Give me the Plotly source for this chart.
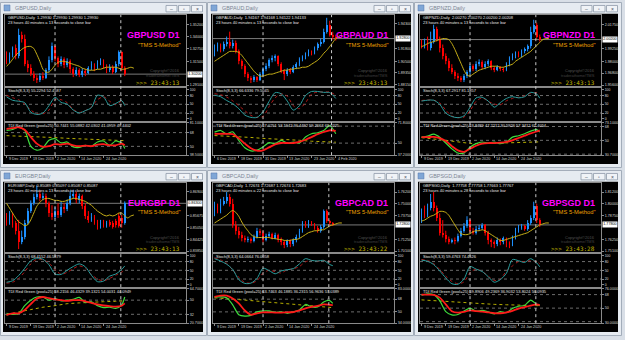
import plotly.graph_objects as go

W, H = 625, 340

# ------------------------------------------------------------------ DATA
# bar positions for indicator samples (every 2nd bar) and TDI base line (every 4th bar)
ind_bars_40 = [0, 2, 4, 6, 8, 10, 12, 14, 16, 18, 20, 22, 24, 26, 28, 30, 32, 34, 36, 38, 39]
ind_bars_41 = [0, 2, 4, 6, 8, 10, 12, 14, 16, 18, 20, 22, 24, 26, 28, 30, 32, 34, 36, 38, 40]
base_bars_40 = [0, 4, 8, 12, 16, 20, 24, 28, 32, 36, 39]
base_bars_41 = [0, 4, 8, 12, 16, 20, 24, 28, 32, 36, 40]

dates_dec9 = ["9 Dec 2019", "19 Dec 2019", "2 Jan 2020", "14 Jan 2020", "24 Jan 2020"]
date_bars_dec9 = [0, 8, 16, 24, 32]
dates_dec6 = ["6 Dec 2019", "18 Dec 2019", "31 Dec 2019", "13 Jan 2020", "23 Jan 2020", "4 Feb 2020"]
date_bars_dec6 = [0, 8, 16, 24, 32, 40]

stoch_ticks = [0, 20, 50, 80, 100]

# ---- GBPUSD
gbpusd_open = [1.320,1.315,1.321,1.328,1.320,1.342,1.338,1.312,1.308,1.302,1.298,1.296,1.300,1.298,1.306,1.316,1.330,1.318,1.312,1.317,1.311,1.315,1.307,1.302,1.306,1.301,1.305,1.303,1.308,1.312,1.308,1.313,1.316,1.310,1.306,1.309,1.304,1.312,1.324,1.308]
gbpusd_high = [1.325,1.324,1.330,1.332,1.348,1.345,1.342,1.316,1.312,1.305,1.301,1.303,1.304,1.308,1.320,1.334,1.331,1.320,1.320,1.319,1.318,1.317,1.309,1.309,1.308,1.308,1.307,1.310,1.315,1.313,1.316,1.318,1.317,1.312,1.312,1.311,1.315,1.326,1.325,1.310]
gbpusd_low = [1.312,1.313,1.319,1.317,1.318,1.334,1.310,1.304,1.300,1.295,1.293,1.294,1.296,1.297,1.304,1.314,1.315,1.309,1.310,1.308,1.309,1.303,1.299,1.300,1.299,1.299,1.300,1.302,1.306,1.305,1.307,1.311,1.308,1.303,1.304,1.302,1.303,1.310,1.305,1.300]
gbpusd_close = [1.315,1.321,1.328,1.320,1.342,1.338,1.312,1.308,1.302,1.298,1.296,1.300,1.298,1.306,1.316,1.330,1.318,1.312,1.317,1.311,1.315,1.307,1.302,1.306,1.301,1.305,1.303,1.308,1.312,1.308,1.313,1.316,1.310,1.306,1.309,1.304,1.312,1.324,1.308,1.302]
gbpusd_ma = [1.310,1.313,1.317,1.321,1.324,1.327,1.329,1.330,1.330,1.328,1.322,1.315,1.307,1.304,1.304,1.307,1.311,1.314,1.315,1.315,1.314,1.313,1.312,1.311,1.310,1.308,1.307,1.306,1.306,1.306,1.307,1.307,1.308,1.309,1.309,1.309,1.309,1.308,1.307,1.307,1.308,1.309,1.308]
gbpusd_stoch = [75.8,63.6,60.6,55.6,23,15,20,45.5,73.7,56.6,50.5,30.3,20.2,28.3,38.4,81,75,45.5,52.5,62.6,45.5]
gbpusd_stoch_sig = [80.9,72.7,65.7,50.5,30.3,17.2,17.2,30.3,65.7,65.7,55.6,32.3,22.2,28.3,40.4,65.7,75.8,60.6,48.5,60.6,52.5]
gbpusd_tdi_green = [70.8,72,75,70.8,50,45,48,57.9,60,54.5,55.7,49.3,48.5,51.4,50.2,55.7,57,51.4,57,54.5,47.1]
gbpusd_tdi_red = [72.9,73.7,75,71.6,62.2,53.6,49.3,50.2,52.8,52.3,53.6,51.4,50.2,51,50.2,52.3,52.8,51.4,51.4,53.6,51.4]
gbpusd_tdi_base = [64,63.5,63,62,61.5,60.5,60,59.5,58.5,58,57.5]
gbpusd_price_ticks = [1.3520, 1.3400, 1.3275, 1.3150, 1.2910]

# ---- GBPAUD
gbpaud_open = [1.913,1.918,1.921,1.917,1.922,1.925,1.920,1.924,1.915,1.905,1.900,1.892,1.888,1.886,1.889,1.886,1.892,1.897,1.900,1.906,1.908,1.910,1.902,1.895,1.892,1.896,1.894,1.899,1.902,1.907,1.909,1.912,1.915,1.913,1.918,1.922,1.925,1.935,1.942,1.932,1.930]
gbpaud_high = [1.922,1.924,1.923,1.925,1.930,1.935,1.927,1.926,1.917,1.907,1.902,1.894,1.890,1.891,1.890,1.894,1.899,1.903,1.908,1.911,1.912,1.911,1.904,1.897,1.898,1.898,1.901,1.904,1.909,1.911,1.914,1.917,1.916,1.920,1.924,1.928,1.938,1.949,1.946,1.935,1.932]
gbpaud_low = [1.910,1.915,1.914,1.915,1.920,1.918,1.918,1.913,1.902,1.897,1.889,1.885,1.883,1.884,1.884,1.885,1.890,1.895,1.898,1.904,1.905,1.900,1.893,1.886,1.890,1.892,1.893,1.897,1.900,1.905,1.907,1.910,1.911,1.912,1.916,1.920,1.923,1.933,1.930,1.927,1.926]
gbpaud_close = [1.918,1.921,1.917,1.922,1.925,1.920,1.924,1.915,1.905,1.900,1.892,1.888,1.886,1.889,1.886,1.892,1.897,1.900,1.906,1.908,1.910,1.902,1.895,1.892,1.896,1.894,1.899,1.902,1.907,1.909,1.912,1.915,1.913,1.918,1.922,1.925,1.935,1.942,1.932,1.930,1.928]
gbpaud_ma = [1.905,1.907,1.909,1.911,1.913,1.915,1.915,1.915,1.914,1.911,1.907,1.903,1.899,1.895,1.892,1.890,1.890,1.891,1.892,1.892,1.893,1.894,1.895,1.896,1.896,1.897,1.897,1.898,1.898,1.899,1.899,1.900,1.902,1.904,1.906,1.909,1.913,1.916,1.920,1.924,1.928,1.930,1.932]
gbpaud_stoch = [81,76,63,52,35,13,5,5,24,60,90,86,61,30,45,80,94,94,91,90,70]
gbpaud_stoch_sig = [86,83,75,62,45,28,12,5,8,42,72,86,78,45,35,55,85,92,92,92,81]
gbpaud_tdi_green = [61.6,63.4,59.9,62,52.9,45,41.7,42.5,45.9,50.5,49.4,52.9,50.1,51.2,50,56.4,59.9,61,63.4,68.7,59.9]
gbpaud_tdi_red = [59.9,59.9,59.9,59.5,55,49.5,44.5,42,42.4,45.5,48.7,50.1,50.1,50.1,51.2,53.6,56.4,59.5,61.8,63.6,63]
gbpaud_tdi_base = [58,57.5,57,56,55,54.5,53.5,53,52,51.5,51]
gbpaud_price_ticks = [1.9430, 1.9180, 1.9050, 1.8935, 1.8815]

# ---- GBPNZD
gbpnzd_open = [2.000,1.995,1.999,1.993,2.000,2.013,2.003,1.993,1.985,1.980,1.973,1.969,1.965,1.963,1.961,1.965,1.969,1.975,1.972,1.977,1.979,1.974,1.977,1.980,1.973,1.971,1.974,1.972,1.971,1.977,1.983,1.985,1.988,1.986,1.990,1.992,1.995,2.010,2.017,2.005]
gbpnzd_high = [2.002,2.003,2.005,2.010,2.017,2.015,2.005,1.997,1.988,1.983,1.977,1.971,1.968,1.965,1.967,1.971,1.977,1.977,1.980,1.982,1.981,1.980,1.982,1.981,1.975,1.976,1.975,1.974,1.979,1.985,1.988,1.990,1.990,1.992,1.994,1.997,2.015,2.022,2.019,2.007]
gbpnzd_low = [1.993,1.993,1.991,1.991,1.998,2.000,1.989,1.982,1.977,1.970,1.967,1.962,1.960,1.959,1.959,1.963,1.967,1.970,1.970,1.975,1.972,1.972,1.975,1.971,1.969,1.970,1.970,1.969,1.970,1.975,1.981,1.983,1.984,1.984,1.988,1.990,1.993,2.008,2.003,2.000]
gbpnzd_close = [1.995,1.999,1.993,2.000,2.013,2.003,1.993,1.985,1.980,1.973,1.969,1.965,1.963,1.961,1.965,1.969,1.975,1.972,1.977,1.979,1.974,1.977,1.980,1.973,1.971,1.974,1.972,1.971,1.977,1.983,1.985,1.988,1.986,1.990,1.992,1.995,2.010,2.017,2.005,2.002]
gbpnzd_ma = [1.995,1.996,1.998,1.999,2.000,2.001,2.002,2.003,2.003,2.002,1.998,1.992,1.985,1.978,1.971,1.966,1.965,1.967,1.969,1.971,1.972,1.973,1.974,1.975,1.975,1.975,1.974,1.974,1.975,1.976,1.977,1.980,1.982,1.984,1.986,1.988,1.990,1.993,1.996,1.999,2.002,2.003,2.003]
gbpnzd_stoch = [61,64,64,50,20,8,4,10,40,72,74,61,40,56,70,76,72,76,91,85,71]
gbpnzd_stoch_sig = [63,65,64,55,30,10,4,6,28,60,72,60,51,48,62,70,74,79,88,90,86]
gbpnzd_tdi_green = [54.2,55.5,58,54,46.5,39,33.5,33.5,41,45.7,47.8,46.5,47.8,45.7,47.8,54.2,56,58.6,62,64,60.7]
gbpnzd_tdi_red = [54.2,54.2,54.5,53,49,42.5,37,35,39,43,45.7,46.5,46.5,47,48,50,53,56,59,61.5,62.9]
gbpnzd_tdi_base = [53.5,52,50,48,46,45.7,46,46.5,47,47.5,48]
gbpnzd_price_ticks = [2.0175, 1.9925, 1.9800, 1.9680, 1.9560]

# ---- EURGBP
eurgbp_open = [0.8565,0.8530,0.8570,0.8530,0.8490,0.8430,0.8455,0.8530,0.8590,0.8630,0.8660,0.8680,0.8655,0.8670,0.8630,0.8580,0.8560,0.8590,0.8570,0.8610,0.8600,0.8630,0.8665,0.8680,0.8645,0.8665,0.8615,0.8565,0.8545,0.8560,0.8530,0.8510,0.8535,0.8515,0.8535,0.8530,0.8540,0.8565,0.8555,0.8530]
eurgbp_high = [0.8580,0.8590,0.8580,0.8540,0.8545,0.8490,0.8545,0.8605,0.8645,0.8680,0.8720,0.8695,0.8685,0.8680,0.8640,0.8620,0.8610,0.8630,0.8640,0.8630,0.8650,0.8695,0.8700,0.8690,0.8680,0.8675,0.8630,0.8590,0.8580,0.8570,0.8545,0.8545,0.8545,0.8540,0.8545,0.8540,0.8550,0.8580,0.8570,0.8640]
eurgbp_low = [0.8515,0.8520,0.8505,0.8470,0.8395,0.8420,0.8445,0.8520,0.8580,0.8620,0.8650,0.8640,0.8645,0.8610,0.8560,0.8545,0.8550,0.8555,0.8560,0.8580,0.8590,0.8620,0.8655,0.8630,0.8630,0.8600,0.8550,0.8530,0.8535,0.8520,0.8495,0.8500,0.8505,0.8505,0.8510,0.8500,0.8505,0.8505,0.8505,0.8520]
eurgbp_close = [0.8530,0.8570,0.8520,0.8490,0.8430,0.8455,0.8530,0.8590,0.8630,0.8660,0.8680,0.8655,0.8670,0.8630,0.8580,0.8560,0.8590,0.8570,0.8610,0.8600,0.8630,0.8665,0.8680,0.8645,0.8665,0.8615,0.8565,0.8545,0.8560,0.8530,0.8510,0.8535,0.8515,0.8530,0.8520,0.8510,0.8520,0.8515,0.8530,0.8630]
eurgbp_ma = [0.8630,0.8605,0.8580,0.8555,0.8535,0.8525,0.8515,0.8520,0.8545,0.8580,0.8615,0.8635,0.8650,0.8655,0.8655,0.8650,0.8645,0.8645,0.8640,0.8640,0.8645,0.8650,0.8655,0.8655,0.8650,0.8645,0.8640,0.8630,0.8620,0.8605,0.8590,0.8580,0.8570,0.8565,0.8570,0.8565,0.8570,0.8580,0.8580,0.8565,0.8555,0.8565,0.8570]
eurgbp_stoch = [9,14,32,57,83,92,88,69,37,36,50,63,72,62,33,11,13,30,37,53,65]
eurgbp_stoch_sig = [6,9,22,45,72,88,86,75,52,37,43,56,65,58,36,20,14,22,33,44,50]
eurgbp_tdi_green = [33.3,32,33,43,50,54,54,50,52,49,50,51,53.5,47,48,43,40.5,41,39.6,44,54]
eurgbp_tdi_red = [31.2,33.3,33.3,37.4,45,52,54,52.5,51,50,49,50,50,48.5,46.5,44.5,43.2,42.3,41.7,42.9,45.8]
eurgbp_tdi_base = [31,35,38,41,43,45.5,46.5,47.5,48,48.5,49]
eurgbp_price_ticks = [0.86900, 0.85675, 0.85050, 0.84425, 0.83850]

# ---- GBPCAD
gbpcad_open = [1.740,1.748,1.742,1.750,1.753,1.757,1.750,1.728,1.722,1.718,1.714,1.712,1.713,1.711,1.716,1.722,1.720,1.712,1.717,1.719,1.715,1.718,1.713,1.710,1.707,1.711,1.708,1.712,1.716,1.722,1.730,1.727,1.731,1.729,1.725,1.722,1.726,1.742,1.732,1.730]
gbpcad_high = [1.752,1.750,1.755,1.757,1.762,1.760,1.755,1.732,1.726,1.721,1.717,1.716,1.715,1.718,1.725,1.724,1.722,1.719,1.721,1.720,1.720,1.719,1.715,1.712,1.713,1.713,1.714,1.718,1.724,1.732,1.732,1.733,1.732,1.730,1.727,1.728,1.744,1.744,1.733,1.731]
gbpcad_low = [1.737,1.740,1.740,1.748,1.750,1.747,1.725,1.718,1.714,1.711,1.710,1.710,1.709,1.710,1.714,1.717,1.710,1.711,1.715,1.713,1.713,1.710,1.707,1.704,1.705,1.705,1.706,1.710,1.714,1.720,1.725,1.725,1.727,1.723,1.720,1.720,1.724,1.730,1.728,1.727]
gbpcad_close = [1.748,1.742,1.750,1.753,1.757,1.750,1.728,1.722,1.718,1.714,1.712,1.713,1.711,1.716,1.722,1.720,1.712,1.717,1.719,1.715,1.718,1.713,1.710,1.707,1.711,1.708,1.712,1.716,1.722,1.730,1.727,1.731,1.729,1.725,1.722,1.726,1.742,1.732,1.730,1.728]
gbpcad_ma = [1.730,1.732,1.734,1.736,1.738,1.741,1.743,1.741,1.737,1.731,1.726,1.722,1.718,1.716,1.715,1.715,1.715,1.715,1.715,1.714,1.714,1.713,1.713,1.712,1.712,1.712,1.713,1.713,1.714,1.716,1.718,1.720,1.721,1.722,1.722,1.723,1.723,1.725,1.727,1.728,1.729,1.730,1.730]
gbpcad_stoch = [90,82,71,53,18,5,6,22,57,49,38,48,52,56,72,90,84,82,84,70,66]
gbpcad_stoch_sig = [93,86,74,51,26,8,6,14,40,50,45,41,52,55,63,79,84,81,84,80,78]
gbpcad_tdi_green = [71.3,71.3,70,60,46,44,45,50,51.5,51.3,49.5,50,48,50,52.7,60.5,57,57,64,66,62]
gbpcad_tdi_red = [71.3,73,73,69,62,52,46,48,49.4,49.4,49,49,49.4,49.8,52,55,57,58.5,60.5,60,59.7]
gbpcad_tdi_base = [70,69,67.5,66,64.5,63,61.5,60,58.5,57,56]
gbpcad_price_ticks = [1.7620, 1.7500, 1.7375, 1.7125, 1.7010]

# ---- GBPSGD
gbpsgd_open = [1.783,1.793,1.788,1.795,1.802,1.795,1.785,1.770,1.768,1.763,1.760,1.762,1.761,1.767,1.772,1.777,1.783,1.772,1.770,1.774,1.775,1.778,1.770,1.762,1.760,1.758,1.762,1.760,1.764,1.759,1.757,1.765,1.772,1.775,1.777,1.774,1.780,1.785,1.798,1.783]
gbpsgd_high = [1.795,1.798,1.800,1.810,1.812,1.798,1.790,1.783,1.772,1.766,1.764,1.765,1.769,1.775,1.780,1.787,1.784,1.775,1.777,1.778,1.780,1.779,1.772,1.764,1.762,1.765,1.764,1.766,1.765,1.761,1.767,1.775,1.778,1.779,1.778,1.783,1.788,1.802,1.800,1.785]
gbpsgd_low = [1.780,1.785,1.786,1.793,1.792,1.782,1.767,1.765,1.760,1.758,1.759,1.758,1.760,1.765,1.770,1.775,1.770,1.768,1.768,1.772,1.773,1.767,1.758,1.755,1.754,1.756,1.757,1.758,1.755,1.754,1.756,1.763,1.770,1.773,1.772,1.772,1.778,1.783,1.780,1.776]
gbpsgd_close = [1.793,1.788,1.795,1.802,1.795,1.785,1.770,1.768,1.763,1.760,1.762,1.761,1.767,1.772,1.777,1.783,1.772,1.770,1.774,1.775,1.778,1.770,1.762,1.760,1.758,1.762,1.760,1.764,1.759,1.757,1.765,1.772,1.775,1.777,1.774,1.780,1.785,1.798,1.783,1.778]
gbpsgd_ma = [1.782,1.783,1.785,1.787,1.788,1.790,1.792,1.792,1.791,1.788,1.783,1.778,1.773,1.769,1.768,1.768,1.769,1.771,1.772,1.772,1.773,1.772,1.770,1.768,1.766,1.764,1.762,1.762,1.763,1.764,1.765,1.766,1.767,1.768,1.769,1.770,1.772,1.774,1.776,1.778,1.779,1.780,1.780]
gbpsgd_stoch = [85,81,70,48,24,4,2,20,63,54,46,28,9,18,40,87,83,77,90,75,62]
gbpsgd_stoch_sig = [87,84,73,53,30,12,4,10,42,54,46,30,15,20,48,65,80,80,83,80,72]
gbpsgd_tdi_green = [67.2,69,68,60,45.3,41,41.5,46,50,46,47,45,42.5,45.3,44,49.7,52.5,53.5,60.7,55,53.2]
gbpsgd_tdi_red = [68.1,68,67.5,64,55,46,44,45,47,46,45.3,44.3,43.2,43.2,44.5,46.5,49.5,51.5,53.5,55,54.1]
gbpsgd_tdi_base = [61,60,58.5,57.5,56.3,55.5,55,54.5,54,53.5,53.2]
gbpsgd_price_ticks = [1.8120, 1.8000, 1.7875, 1.7625, 1.7510]

# ------------------------------------------------------------------ PANEL CONFIG
panels = [
    dict(sym="GBPUSD", col=0, row=0, o=gbpusd_open, h=gbpusd_high, l=gbpusd_low, c=gbpusd_close, ma=gbpusd_ma,
         st=gbpusd_stoch, sg=gbpusd_stoch_sig, tg=gbpusd_tdi_green, tr=gbpusd_tdi_red, tb=gbpusd_tdi_base,
         ix=ind_bars_40, bx=base_bars_40, prange=[1.2900, 1.3620], pticks=gbpusd_price_ticks, trange=[38.5, 81.1],
         dates=dates_dec9, dbars=date_bars_dec9, seps=[16, 37.7], timer="23:43:13", secs="13",
         info="GBPUSD,Daily  1.29930 1.29930 1.29930 1.29930",
         stxt="Stoch(8,3,3) 55.2294 52.4587", ttxt="TDI Red Green (pool=25) 50.7441 55.0882 42.0302 41.0959 49.4402"),
    dict(sym="GBPAUD", col=1, row=0, o=gbpaud_open, h=gbpaud_high, l=gbpaud_low, c=gbpaud_close, ma=gbpaud_ma,
         st=gbpaud_stoch, sg=gbpaud_stoch_sig, tg=gbpaud_tdi_green, tr=gbpaud_tdi_red, tb=gbpaud_tdi_base,
         ix=ind_bars_41, bx=base_bars_41, prange=[1.8800, 1.9520], pticks=gbpaud_price_ticks, trange=[37.2, 71.8],
         dates=dates_dec6, dbars=date_bars_dec6, seps=[16, 38.6], timer="23:43:13", secs="13",
         info="GBPAUD,Daily  1.94167 1.94168 1.94122 1.94133",
         stxt="Stoch(8,3,3) 66.6336 79.5045", ttxt="TDI Red Green (pool=25) 67.0251 53.1942 36.4492 59.2667 63.0225"),
    dict(sym="GBPNZD", col=2, row=0, o=gbpnzd_open, h=gbpnzd_high, l=gbpnzd_low, c=gbpnzd_close, ma=gbpnzd_ma,
         st=gbpnzd_stoch, sg=gbpnzd_stoch_sig, tg=gbpnzd_tdi_green, tr=gbpnzd_tdi_red, tb=gbpnzd_tdi_base,
         ix=ind_bars_40, bx=base_bars_40, prange=[1.9550, 2.0270], pticks=gbpnzd_price_ticks, trange=[30.7, 73.1],
         dates=dates_dec9, dbars=date_bars_dec9, seps=[16, 37.7], timer="23:43:13", secs="13",
         info="GBPNZD,Daily  2.00270 2.00270 2.00200 2.00208",
         stxt="Stoch(8,3,3) 67.2917 81.1857", ttxt="TDI Red Green (pool=25) 63.8489 47.2212 30.5926 57.3412 61.4054"),
    dict(sym="EURGBP", col=0, row=1, o=eurgbp_open, h=eurgbp_high, l=eurgbp_low, c=eurgbp_close, ma=eurgbp_ma,
         st=eurgbp_stoch, sg=eurgbp_stoch_sig, tg=eurgbp_tdi_green, tr=eurgbp_tdi_red, tb=eurgbp_tdi_base,
         ix=ind_bars_40, bx=base_bars_40, prange=[0.8380, 0.8735], pticks=eurgbp_price_ticks, trange=[20.7, 64.7],
         dates=dates_dec9, dbars=date_bars_dec9, seps=[16, 37.7], timer="23:43:13", secs="13",
         info="EURGBP,Daily  0.85089 0.85097 0.85087 0.85087",
         stxt="Stoch(8,3,3) 68.4152 46.5879", ttxt="TDI Red Green (pool=25) 58.2156 46.4329 39.1321 54.0031 44.0949"),
    dict(sym="GBPCAD", col=1, row=1, o=gbpcad_open, h=gbpcad_high, l=gbpcad_low, c=gbpcad_close, ma=gbpcad_ma,
         st=gbpcad_stoch, sg=gbpcad_stoch_sig, tg=gbpcad_tdi_green, tr=gbpcad_tdi_red, tb=gbpcad_tdi_base,
         ix=ind_bars_40, bx=base_bars_40, prange=[1.7000, 1.7715], pticks=gbpcad_price_ticks, trange=[34.0, 83.0],
         dates=dates_dec9, dbars=date_bars_dec9, seps=[16, 37.7], timer="23:43:22", secs="22",
         info="GBPCAD,Daily  1.72674 1.72687 1.72674 1.72683",
         stxt="Stoch(8,3,3) 64.0664 76.0058", ttxt="TDI Red Green (pool=25) 63.7463 46.1885 36.2315 56.9636 57.0389"),
    dict(sym="GBPSGD", col=2, row=1, o=gbpsgd_open, h=gbpsgd_high, l=gbpsgd_low, c=gbpsgd_close, ma=gbpsgd_ma,
         st=gbpsgd_stoch, sg=gbpsgd_stoch_sig, tg=gbpsgd_tdi_green, tr=gbpsgd_tdi_red, tb=gbpsgd_tdi_base,
         ix=ind_bars_40, bx=base_bars_40, prange=[1.7500, 1.8215], pticks=gbpsgd_price_ticks, trange=[30.0, 76.0],
         dates=dates_dec9, dbars=date_bars_dec9, seps=[16, 37.7], timer="23:43:28", secs="28",
         info="GBPSGD,Daily  1.77758 1.77758 1.77663 1.77767",
         stxt="Stoch(8,3,3) 59.4763 74.4526", ttxt="TDI Red Green (pool=25) 59.8906 49.2369 36.9032 53.8024 56.0935"),
]

# ------------------------------------------------------------------ GEOMETRY / STYLE
BLACK_LEFT = [3, 211, 418]
WIN_X = [(0, 207), (207, 414), (414, 622)]
ROWS = [
    dict(wt=0, wb=168, black=(12, 164), main=(13, 85), stoch=(87, 120), tdi=(122, 155), date_y=158.5),
    dict(wt=170, wb=338, black=(182, 334), main=(183, 253), stoch=(255, 288), tdi=(290, 325), date_y=328.5),
]
UP, DN = "#1e90ff", "#ff0000"
FONT = "Liberation Sans"
TXT = 4.0
AX = 3.7


def fx(px):
    return px / W


def fy(py):
    return 1 - py / H


fig = go.Figure()
shapes, annos, axes = [], [], {}


def pan(x, y, text, size=TXT, color="#e6e6e6", xanchor="left", family=FONT, bold=False, **kw):
    if bold:
        text = "<b>" + text + "</b>"
    annos.append(dict(xref="paper", yref="paper", x=fx(x), y=fy(y), text=text, showarrow=False,
                      xanchor=xanchor, yanchor="middle", font=dict(size=size, color=color, family=family), **kw))


def prect(x0, y0, x1, y1, fill, line=None, lw=0):
    shapes.append(dict(type="rect", xref="paper", yref="paper", x0=fx(x0), x1=fx(x1), y0=fy(y1), y1=fy(y0),
                       fillcolor=fill, line=dict(color=line or fill, width=lw), layer="below"))


for p, P in enumerate(panels):
    R = ROWS[P["row"]]
    bl = BLACK_LEFT[P["col"]]
    wl, wr = WIN_X[P["col"]]
    wt = R["wt"]

    # window frame + title bar
    prect(wl + 0.5, wt + 0.5, wr - 0.5, R["wb"] - 0.5, "#e6ebf1", "#a3adba", 1)
    prect(wl + 4, wt + 3, wl + 10, wt + 9, "#7fa6d6", "#5577aa", 0.5)
    pan(wl + 13, wt + 6.5, P["sym"] + ",Daily", size=5.4, color="#7b8594")
    br = bl + 200
    for bx0, bx1, g in [(br - 37, br - 26, "–"), (br - 24.5, br - 13, "▫"), (br - 11.5, br - 0.5, "×")]:
        prect(bx0, wt + 3.5, bx1, wt + 10, "#f0f3f7", "#8e99a8", 0.8)
        pan((bx0 + bx1) / 2, wt + 6.8, g, size=5, color="#4a5260", xanchor="center")

    # black client area
    prect(bl, R["black"][0], bl + 200, R["black"][1], "#000000")

    x0p, x1p = fx(bl + 2), fx(bl + 183)
    names = []
    for j, key in enumerate(["main", "stoch", "tdi"]):
        n = 3 * p + j + 1
        xa, ya = ("xaxis", "yaxis") if n == 1 else (f"xaxis{n}", f"yaxis{n}")
        xr, yr = ("x", "y") if n == 1 else (f"x{n}", f"y{n}")
        names.append((xr, yr, xa, ya))
        top, bot = R[key]
        axes[xa] = dict(domain=[x0p, x1p], anchor=yr, range=[-0.5, 59.2], showgrid=False, zeroline=False,
                        showticklabels=False, showline=True, mirror=True, linecolor="#8a8a8a", linewidth=1,
                        fixedrange=True)
        axes[ya] = dict(domain=[fy(bot), fy(top)], anchor=xr, side="right", showgrid=False, zeroline=False,
                        showline=True, mirror=True, linecolor="#8a8a8a", linewidth=1, ticks="outside",
                        ticklen=2, tickcolor="#8a8a8a", tickfont=dict(size=AX, color="#dcdcdc", family=FONT),
                        fixedrange=True)
    (xm, ym, xma, yma), (xs, ys, xsa, ysa), (xt, yt, xta, yta) = names

    # ---- main pane: candles
    nb = len(P["c"])
    bars = list(range(nb))
    body_base = [min(o, c) for o, c in zip(P["o"], P["c"])]
    body_h = [max(abs(c - o), 0.00025) for o, c in zip(P["o"], P["c"])]
    cols = [UP if c >= o else DN for o, c in zip(P["o"], P["c"])]
    for is_up, col in [(True, UP), (False, DN)]:
        wx, wy = [], []
        for i in bars:
            if (P["c"][i] >= P["o"][i]) == is_up:
                wx += [i, i, None]
                wy += [P["l"][i], P["h"][i], None]
        fig.add_trace(go.Scatter(x=wx, y=wy, mode="lines", line=dict(color=col, width=1),
                                 xaxis=xm, yaxis=ym, hoverinfo="skip"))
    fig.add_trace(go.Bar(x=bars, y=body_h, base=body_base, width=0.6, marker=dict(color=cols, line=dict(width=0)),
                         xaxis=xm, yaxis=ym, hoverinfo="skip"))
    fig.add_trace(go.Scatter(x=list(range(len(P["ma"]))), y=P["ma"], mode="lines",
                             line=dict(color="#c8b018", width=1, shape="spline", smoothing=0.6),
                             xaxis=xm, yaxis=ym, hoverinfo="skip"))
    axes[yma].update(range=P["prange"], tickvals=P["pticks"], ticktext=[f"{v:.5f}" for v in P["pticks"]])

    last = P["c"][-1]
    shapes.append(dict(type="line", xref=f"{xm} domain", yref=ym, x0=0, x1=1, y0=last, y1=last,
                       line=dict(color="#7a7a7a", width=1), layer="below"))
    annos.append(dict(xref="paper", yref=ym, x=fx(bl + 183.5), y=last, text=f"{last:.5f}", showarrow=False,
                      xanchor="left", yanchor="middle", bgcolor="#ffffff", borderpad=0.3,
                      font=dict(size=AX, color="#000000", family=FONT)))

    # ---- stochastic pane
    fig.add_trace(go.Scatter(x=P["ix"], y=P["sg"], mode="lines",
                             line=dict(color="#b01818", width=1, dash="dot", shape="spline", smoothing=0.8),
                             xaxis=xs, yaxis=ys, hoverinfo="skip"))
    fig.add_trace(go.Scatter(x=P["ix"], y=P["st"], mode="lines",
                             line=dict(color="#2a9d9d", width=1, shape="spline", smoothing=0.8),
                             xaxis=xs, yaxis=ys, hoverinfo="skip"))
    axes[ysa].update(range=[-6, 106], tickvals=stoch_ticks, ticktext=[str(v) for v in stoch_ticks],
                     tickfont=dict(size=3.4, color="#dcdcdc", family=FONT))
    for lv in (80, 50, 20):
        shapes.append(dict(type="line", xref=f"{xs} domain", yref=ys, x0=0, x1=1, y0=lv, y1=lv,
                           line=dict(color="#6c6c6c", width=1, dash="dot"), layer="below"))

    # ---- TDI pane
    fig.add_trace(go.Scatter(x=P["bx"], y=P["tb"], mode="lines",
                             line=dict(color="#b8b000", width=1, dash="dot"),
                             xaxis=xt, yaxis=yt, hoverinfo="skip"))
    fig.add_trace(go.Scatter(x=P["ix"], y=P["tg"], mode="lines",
                             line=dict(color="#3ddc3d", width=1.2, shape="spline", smoothing=0.7),
                             xaxis=xt, yaxis=yt, hoverinfo="skip"))
    fig.add_trace(go.Scatter(x=P["ix"], y=P["tr"], mode="lines",
                             line=dict(color="#ff1a1a", width=1.8, shape="spline", smoothing=0.8),
                             xaxis=xt, yaxis=yt, hoverinfo="skip"))
    lo, hi = P["trange"]
    lvls = [v for v in (68, 50, 32) if lo + 5 < v < hi - 5]
    axes[yta].update(range=[lo, hi], tickvals=[hi] + lvls + [lo],
                     ticktext=[f"{hi:.4f}"] + [str(v) for v in lvls] + [f"{lo:.4f}"])
    for lv in (68, 50, 32):
        if lo < lv < hi:
            shapes.append(dict(type="line", xref=f"{xt} domain", yref=yt, x0=0, x1=1, y0=lv, y1=lv,
                               line=dict(color="#6c6c6c", width=1, dash="dot"), layer="below"))
    axes[xta].update(tickvals=P["dbars"], ticks="outside", ticklen=2, tickcolor="#8a8a8a")

    # date labels
    for d, b in zip(P["dates"], P["dbars"]):
        annos.append(dict(xref=xt, yref="paper", x=b, y=fy(R["date_y"]), text=d, showarrow=False,
                          xanchor="left", yanchor="middle", xshift=0,
                          font=dict(size=AX, color="#d0d0d0", family=FONT)))

    # vertical period separators
    for s in P["seps"]:
        shapes.append(dict(type="line", xref=xt, yref="paper", x0=s, x1=s, y0=fy(R["tdi"][1]), y1=fy(R["main"][0]),
                           line=dict(color="#c8c8c8", width=1, dash="dot")))

    # texts inside panes
    mt, mb = R["main"]
    mh = mb - mt
    pan(bl + 3, mt + 3.0, P["info"])
    pan(bl + 3, mt + 7.6, "23 hours 40 minutes a " + P["secs"] + " seconds to close bar")
    pan(bl + 179, mt + 0.285 * mh, P["sym"] + " D1", size=9.0, color="#ff00ff", xanchor="right", bold=True)
    pan(bl + 179, mt + 0.42 * mh, "\"TMS 5-Method\"", size=5.8, color="#f0a000", xanchor="right")
    pan(bl + 179, mt + 0.785 * mh, "Copyright©2016", size=4.0, color="#505050", xanchor="right")
    pan(bl + 179, mt + 0.855 * mh, "traderathome/TMS", size=4.0, color="#404040", xanchor="right")
    pan(bl + 179, mt + 0.945 * mh, ">>> " + P["timer"], size=6.0, color="#c0b400", xanchor="right",
        family="DejaVu Sans Mono")
    pan(bl + 3, R["stoch"][0] + 3.0, P["stxt"])
    pan(bl + 3, R["tdi"][0] + 3.0, P["ttxt"])

fig.update_layout(
    width=W, height=H, margin=dict(l=0, r=0, t=0, b=0, pad=0),
    paper_bgcolor="#d9dfe7", plot_bgcolor="#000000",
    showlegend=False, hovermode=False, barmode="overlay", bargap=0,
    shapes=shapes, annotations=annos, font=dict(family=FONT),
    **axes,
)
fig.write_html("out.html", config=dict(displayModeBar=False, staticPlot=True))
